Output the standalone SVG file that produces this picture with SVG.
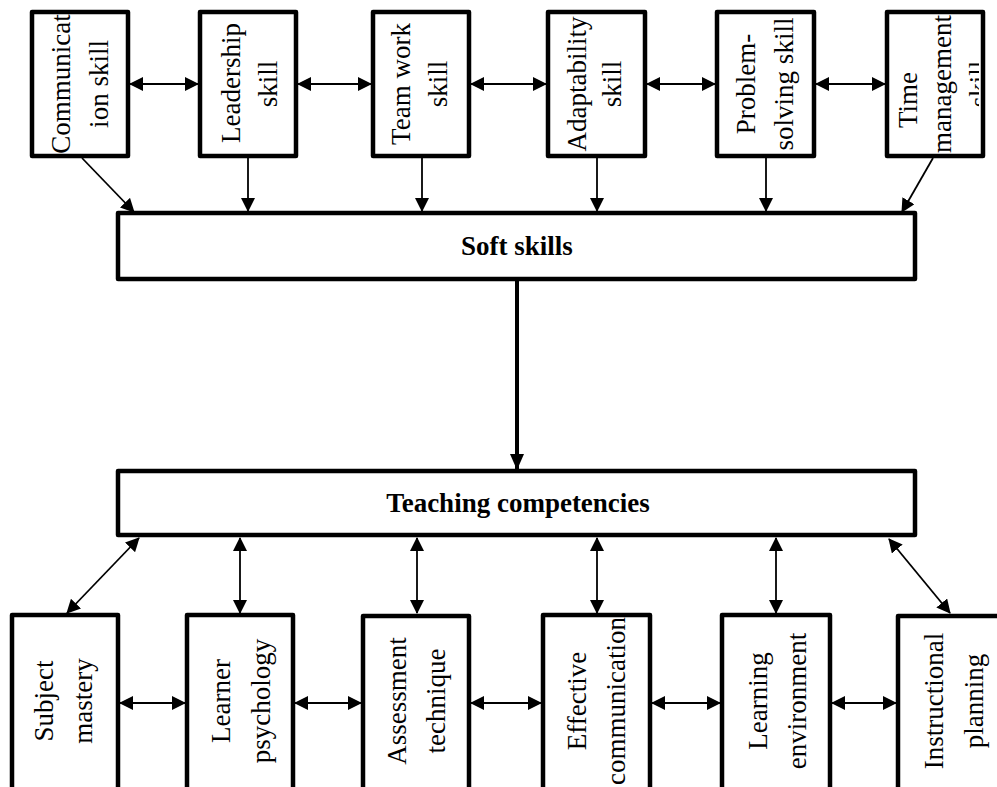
<svg xmlns="http://www.w3.org/2000/svg" width="997" height="787" viewBox="0 0 997 787">
<style>
.box{fill:#fff;stroke:#000;stroke-width:4.5;stroke-linejoin:round}
.t{font-family:"Liberation Serif","Times New Roman",serif;font-size:27px;fill:#000;text-anchor:middle}
.b{font-family:"Liberation Serif","Times New Roman",serif;font-size:27px;font-weight:bold;fill:#000;text-anchor:middle}
.c{fill:none;stroke:#000;stroke-width:1.8}
.thick{fill:none;stroke:#000;stroke-width:4}
</style>
<defs>
<marker id="ah" viewBox="0 0 14 14" markerWidth="14" markerHeight="14" refX="13" refY="7" orient="auto-start-reverse" markerUnits="userSpaceOnUse">
<path d="M0,0 L14,7 L0,14 z" fill="#000"/>
</marker>
<marker id="ahb" viewBox="0 0 16 14" markerWidth="16" markerHeight="14" refX="15" refY="7" orient="auto" markerUnits="userSpaceOnUse">
<path d="M0,0 L16,7 L0,14 z" fill="#000"/>
</marker>
<clipPath id="clipTime"><rect x="889" y="14" width="90" height="140"/></clipPath>
</defs>

<g id="connectors">
<line class="c" x1="130" y1="84" x2="198" y2="84" marker-start="url(#ah)" marker-end="url(#ah)"/>
<line class="c" x1="298" y1="84" x2="371" y2="84" marker-start="url(#ah)" marker-end="url(#ah)"/>
<line class="c" x1="471" y1="84" x2="546" y2="84" marker-start="url(#ah)" marker-end="url(#ah)"/>
<line class="c" x1="647" y1="84" x2="715" y2="84" marker-start="url(#ah)" marker-end="url(#ah)"/>
<line class="c" x1="816" y1="84" x2="885" y2="84" marker-start="url(#ah)" marker-end="url(#ah)"/>
<line class="c" x1="82" y1="158" x2="134" y2="212" marker-end="url(#ah)"/>
<line class="c" x1="248" y1="158" x2="248" y2="211" marker-end="url(#ah)"/>
<line class="c" x1="422" y1="158" x2="422" y2="211" marker-end="url(#ah)"/>
<line class="c" x1="597" y1="158" x2="597" y2="211" marker-end="url(#ah)"/>
<line class="c" x1="766" y1="158" x2="766" y2="211" marker-end="url(#ah)"/>
<line class="c" x1="933" y1="158" x2="902" y2="212" marker-end="url(#ah)"/>
<line class="thick" x1="517" y1="281" x2="517" y2="469" marker-end="url(#ahb)"/>
<line class="c" x1="139" y1="538" x2="67" y2="613" marker-start="url(#ah)" marker-end="url(#ah)"/>
<line class="c" x1="240" y1="538" x2="240" y2="613" marker-start="url(#ah)" marker-end="url(#ah)"/>
<line class="c" x1="417" y1="538" x2="417" y2="613" marker-start="url(#ah)" marker-end="url(#ah)"/>
<line class="c" x1="597" y1="538" x2="597" y2="613" marker-start="url(#ah)" marker-end="url(#ah)"/>
<line class="c" x1="776" y1="538" x2="776" y2="613" marker-start="url(#ah)" marker-end="url(#ah)"/>
<line class="c" x1="889" y1="539" x2="950" y2="613" marker-start="url(#ah)" marker-end="url(#ah)"/>
<line class="c" x1="120" y1="703" x2="185" y2="703" marker-start="url(#ah)" marker-end="url(#ah)"/>
<line class="c" x1="295" y1="703" x2="361" y2="703" marker-start="url(#ah)" marker-end="url(#ah)"/>
<line class="c" x1="471" y1="703" x2="541" y2="703" marker-start="url(#ah)" marker-end="url(#ah)"/>
<line class="c" x1="652" y1="703" x2="720" y2="703" marker-start="url(#ah)" marker-end="url(#ah)"/>
<line class="c" x1="832" y1="703" x2="896" y2="703" marker-start="url(#ah)" marker-end="url(#ah)"/>
</g>

<g id="communication">
<rect class="box" x="32" y="12" width="96" height="144"/>
<text class="t" transform="translate(70,84) rotate(-90)">Communicat</text>
<text class="t" transform="translate(108,84) rotate(-90)">ion skill</text>
</g>
<g id="leadership">
<rect class="box" x="200" y="12" width="96" height="144"/>
<text class="t" transform="translate(240,83) rotate(-90)">Leadership</text>
<text class="t" transform="translate(277,84) rotate(-90)">skill</text>
</g>
<g id="teamwork">
<rect class="box" x="373" y="12" width="96" height="144"/>
<text class="t" transform="translate(410,84) rotate(-90)">Team work</text>
<text class="t" transform="translate(447,84) rotate(-90)">skill</text>
</g>
<g id="adaptability">
<rect class="box" x="548" y="12" width="97" height="144"/>
<text class="t" transform="translate(586,84) rotate(-90)">Adaptability</text>
<text class="t" transform="translate(621,84) rotate(-90)">skill</text>
</g>
<g id="problemsolving">
<rect class="box" x="717" y="12" width="97" height="144"/>
<text class="t" transform="translate(755,84) rotate(-90)">Problem-</text>
<text class="t" transform="translate(793,84) rotate(-90)">solving skill</text>
</g>
<g id="timemanagement">
<rect class="box" x="887" y="12" width="96" height="144"/>
<g clip-path="url(#clipTime)">
<text class="t" transform="translate(917,100) rotate(-90)">Time</text>
<text class="t" transform="translate(951,84) rotate(-90)">management</text>
<text class="t" transform="translate(988,84) rotate(-90)">skill</text>
</g>
</g>

<g id="softskills">
<rect class="box" x="118" y="213" width="797" height="66"/>
<text class="b" x="517" y="255">Soft skills</text>
</g>
<g id="teaching">
<rect class="box" x="118" y="471" width="797" height="64"/>
<text class="b" x="518" y="512">Teaching competencies</text>
</g>

<g id="subject">
<rect class="box" x="12" y="615" width="106" height="185"/>
<text class="t" transform="translate(53,701) rotate(-90)">Subject</text>
<text class="t" transform="translate(92,701) rotate(-90)">mastery</text>
</g>
<g id="learner">
<rect class="box" x="187" y="615" width="106" height="185"/>
<text class="t" transform="translate(230,701) rotate(-90)">Learner</text>
<text class="t" transform="translate(270,701) rotate(-90)">psychology</text>
</g>
<g id="assessment">
<rect class="box" x="363" y="616" width="106" height="185"/>
<text class="t" transform="translate(406,701) rotate(-90)">Assessment</text>
<text class="t" transform="translate(445,701) rotate(-90)">technique</text>
</g>
<g id="effective">
<rect class="box" x="543" y="615" width="107" height="185"/>
<text class="t" transform="translate(586,701) rotate(-90)">Effective</text>
<text class="t" transform="translate(625,701) rotate(-90)">communication</text>
</g>
<g id="learningenv">
<rect class="box" x="722" y="615" width="108" height="185"/>
<text class="t" transform="translate(767,701) rotate(-90)">Learning</text>
<text class="t" transform="translate(806,701) rotate(-90)">environment</text>
</g>
<g id="instructional">
<rect class="box" x="898" y="616" width="104" height="185"/>
<text class="t" transform="translate(943,701) rotate(-90)">Instructional</text>
<text class="t" transform="translate(983,701) rotate(-90)">planning</text>
</g>
</svg>
